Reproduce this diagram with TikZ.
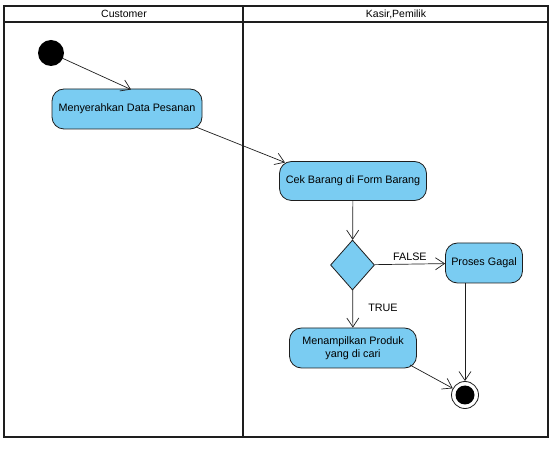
\documentclass[tikz,border=0pt]{standalone}
\usepackage{fontspec}
\setmainfont{Liberation Sans}
\usetikzlibrary{shapes.geometric,arrows.meta}
\definecolor{actfill}{RGB}{122,204,242}
\definecolor{edge}{RGB}{30,30,30}
\begin{document}
\begin{tikzpicture}[x=1pt,y=-1pt,
  lane/.style={draw=edge,line width=1.3pt},
  txt/.style={font=\fontsize{10.8}{13}\selectfont},
  action/.style={draw=edge,fill=actfill,rounded corners=12pt,line width=0.8pt,
    align=center,txt,inner sep=0pt},
  flow/.style={draw=edge,line width=0.7pt,-{Straight Barb[length=9pt,width=12pt]}}]
\useasboundingbox (0,0) rectangle (555,449);
% swimlane frame
\draw[lane] (4,6) rectangle (548,437);
\draw[lane] (4,22) -- (548,22);
\draw[lane] (243,6) -- (243,437);
\node[font=\fontsize{10.5}{12}\selectfont] (hcust) at (124,14) {Customer};
\node[font=\fontsize{10.5}{12}\selectfont] (hkasir) at (396,14) {Kasir,Pemilik};
% nodes
\node[circle,fill=black,minimum size=26pt,inner sep=0pt] (start) at (51,53) {};
\node[action,minimum width=150pt,minimum height=40pt] (serah) at (127,109) {Menyerahkan Data Pesanan};
\node[action,minimum width=147pt,minimum height=39pt] (cek) at (353,181) {Cek Barang di Form Barang};
\node[diamond,draw=edge,fill=actfill,line width=0.8pt,minimum width=44pt,minimum height=50pt,inner sep=0pt] (dec) at (352.5,265) {};
\node[action,minimum width=77pt,minimum height=40pt] (gagal) at (484,263) {Proses Gagal};
\node[action,minimum width=127pt,minimum height=40pt] (tampil) at (353,348) {Menampilkan Produk\\yang di cari};
\node[circle,draw=edge,fill=white,line width=0.8pt,minimum size=27pt,inner sep=0pt] (end) at (465,395) {};
\node[circle,fill=black,minimum size=19pt,inner sep=0pt] (endin) at (end) {};
% connectors
\draw[flow] (start) -- (131,89.5);
\draw[flow] (196,127) -- (285,162.5);
\draw[flow] (cek) -- (dec);
\draw[flow] (dec) -- node[txt,above] (lfalse) {FALSE} (gagal);
\draw[flow] (dec) -- (tampil);
\node[txt] (ltrue) at (383,308) {TRUE};
\draw[flow] (gagal.south -| end) -- (end);
\draw[flow] (410,365) -- (end);
\end{tikzpicture}
\end{document}
